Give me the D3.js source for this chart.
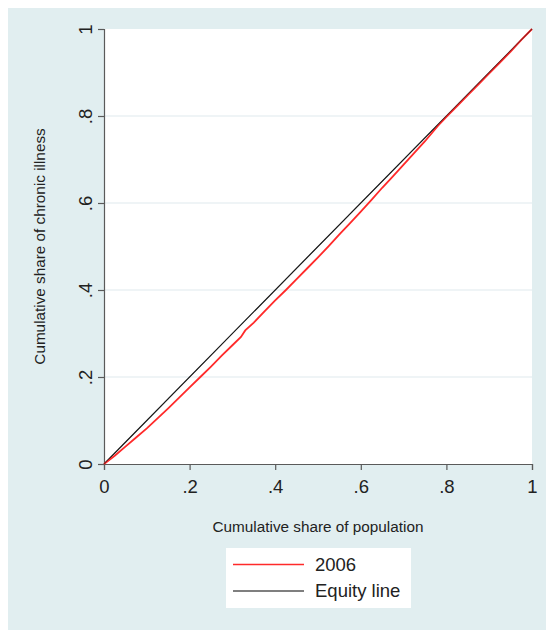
<!DOCTYPE html>
<html>
<head>
<meta charset="utf-8">
<script src="https://cdn.jsdelivr.net/npm/d3@7/dist/d3.min.js"></script>
<style>
  html, body { margin: 0; padding: 0; background: #ffffff; }
  svg { display: block; font-family: "Liberation Sans", Arial, sans-serif; }
</style>
</head>
<body>
<svg id="chart" width="546" height="630"></svg>
<script>
// Concentration curve of chronic illness, 2006
const popShare = [0, 0.025, 0.05, 0.075, 0.1, 0.125, 0.15, 0.175, 0.2, 0.225, 0.25, 0.275, 0.3, 0.32, 0.33, 0.35, 0.375, 0.4, 0.425, 0.45, 0.475, 0.5, 0.525, 0.55, 0.575, 0.6, 0.625, 0.65, 0.675, 0.7, 0.725, 0.75, 0.78, 0.8, 0.825, 0.85, 0.875, 0.9, 0.925, 0.95, 0.975, 1];
const illnessShare = [0, 0.019, 0.040, 0.061, 0.082, 0.105, 0.128, 0.152, 0.176, 0.200, 0.224, 0.249, 0.273, 0.292, 0.307, 0.325, 0.351, 0.376, 0.400, 0.425, 0.450, 0.475, 0.501, 0.528, 0.554, 0.580, 0.607, 0.635, 0.661, 0.688, 0.715, 0.742, 0.777, 0.798, 0.823, 0.848, 0.873, 0.898, 0.923, 0.948, 0.975, 1];
const equityLine = [[0, 0], [1, 1]];
const tickValues = [0, 0.2, 0.4, 0.6, 0.8, 1];
const tickLabels = ["0", ".2", ".4", ".6", ".8", "1"];
const legendLabels = ["2006", "Equity line"];

const svg = d3.select("#chart");
const W = 546, H = 630;
const plot = { left: 104, right: 532, top: 29, bottom: 464 };

const bg = "#e1eef0";
const axisColor = "#5a5a5a";
const gridColor = "#eaf1f3";
const textColor = "#222222";
const fontFamily = "Liberation Sans, Arial, sans-serif";

// graph region
svg.append("rect").attr("x", 8).attr("y", 8).attr("width", W - 8).attr("height", H - 8).attr("fill", bg);
// plot region
svg.append("rect").attr("x", plot.left).attr("y", plot.top)
  .attr("width", plot.right - plot.left).attr("height", plot.bottom - plot.top).attr("fill", "#ffffff");

const x = d3.scaleLinear().domain([0, 1]).range([plot.left, plot.right]);
const y = d3.scaleLinear().domain([0, 1]).range([plot.bottom, plot.top]);

// horizontal gridlines
svg.append("g").selectAll("line")
  .data(tickValues.filter(v => v > 0 && v < 1))
  .join("line")
  .attr("x1", plot.left).attr("x2", plot.right)
  .attr("y1", d => y(d)).attr("y2", d => y(d))
  .attr("stroke", gridColor).attr("stroke-width", 1.3);

// axes
const fmt = d => tickLabels[tickValues.indexOf(d)];
const xAxis = svg.append("g").attr("transform", `translate(0,${plot.bottom})`)
  .call(d3.axisBottom(x).tickValues(tickValues).tickFormat(fmt).tickSize(6));
const yAxis = svg.append("g").attr("transform", `translate(${plot.left},0)`)
  .call(d3.axisLeft(y).tickValues(tickValues).tickFormat(fmt).tickSize(6));

[xAxis, yAxis].forEach(g => {
  g.attr("font-size", 18.5).attr("font-family", fontFamily);
  g.select(".domain").attr("stroke", axisColor).attr("stroke-width", 1.2);
  g.selectAll(".tick line").attr("stroke", axisColor).attr("stroke-width", 1.2);
  g.selectAll(".tick text").attr("fill", textColor);
});
xAxis.selectAll(".tick text").attr("y", 16).attr("dy", "0.71em");
yAxis.selectAll(".tick text")
  .attr("text-anchor", "middle")
  .attr("dy", null)
  .attr("x", null)
  .attr("transform", "translate(-12,0) rotate(-90)");

// equity line
const line = d3.line().x(d => x(d[0])).y(d => y(d[1]));
svg.append("path").datum(equityLine)
  .attr("d", line).attr("fill", "none")
  .attr("stroke", "#1a1a1a").attr("stroke-width", 1.2);

// concentration curve
const curve = popShare.map((p, i) => [p, illnessShare[i]]);
svg.append("path").datum(curve)
  .attr("d", line).attr("fill", "none")
  .attr("stroke", "#ff2a2a").attr("stroke-width", 1.8);

// equity line kept visible where the two curves meet
svg.append("path").datum(equityLine)
  .attr("d", line).attr("fill", "none")
  .attr("stroke", "#1a1a1a").attr("stroke-width", 0.9).attr("opacity", 0.6);

// axis titles
svg.append("text")
  .attr("x", (plot.left + plot.right) / 2).attr("y", 532)
  .attr("text-anchor", "middle").attr("font-size", 15.3).attr("fill", textColor)
  .text("Cumulative share of population");
svg.append("text")
  .attr("transform", `translate(45,${(plot.top + plot.bottom) / 2}) rotate(-90)`)
  .attr("text-anchor", "middle").attr("font-size", 15.3).attr("fill", textColor)
  .text("Cumulative share of chronic illness");

// legend
const legend = svg.append("g");
legend.append("rect").attr("x", 226).attr("y", 548).attr("width", 185).attr("height", 60).attr("fill", "#ffffff");
const legendColors = ["#ff2a2a", "#555555"];
legendLabels.forEach((lab, i) => {
  const yy = 564.5 + i * 26.5;
  legend.append("line").attr("x1", 233).attr("x2", 304).attr("y1", yy).attr("y2", yy)
    .attr("stroke", legendColors[i]).attr("stroke-width", 1.3);
  legend.append("text").attr("x", 315).attr("y", yy).attr("dy", "0.35em")
    .attr("font-size", 18.5).attr("fill", textColor).text(lab);
});
</script>
</body>
</html>
